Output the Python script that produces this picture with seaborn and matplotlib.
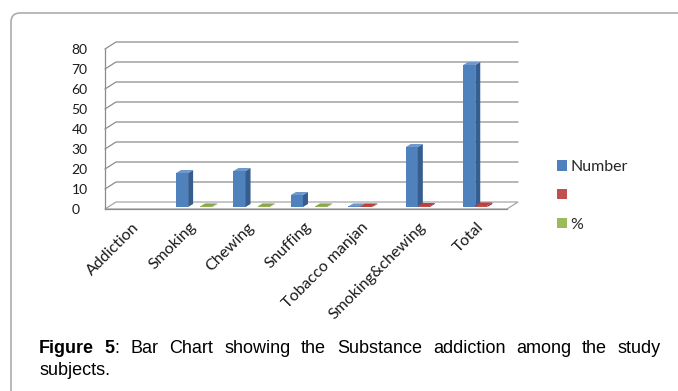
import numpy as np
import pandas as pd
import matplotlib
matplotlib.use("Agg")
import matplotlib.pyplot as plt
import seaborn as sns
from matplotlib import transforms
from matplotlib.patches import Polygon, Patch, FancyBboxPatch
from matplotlib.lines import Line2D

# ---------------- data ----------------
categories = ["Addiction", "Smoking", "Chewing", "Snuffing", "Tobacco manjan",
              "Smoking&chewing", "Total"]
series = ["Number", "", "%"]
number_vals = [np.nan, 17, 18, 6, 0.3, 30, 71]
blank_vals = [np.nan, np.nan, np.nan, np.nan, 0.3, 0.5, 0.8]
pct_vals = [np.nan, 0.3, 0.3, 0.3, np.nan, np.nan, np.nan]
yticks = [0, 10, 20, 30, 40, 50, 60, 70, 80]
caption_bold = "Figure 5"
caption_rest = ": Bar Chart showing the Substance addiction among the study"
caption_line2 = "subjects."

front_colors = {"Number": "#4F81BD", "": "#C0504D", "%": "#9BBB59"}
side_colors = {"Number": "#355E8F", "": "#8E3532", "%": "#6F8A3C"}
top_colors = {"Number": "#6F98CC", "": "#B9403D", "%": "#8AA84B"}

rows = []
for s, vals in zip(series, [number_vals, blank_vals, pct_vals]):
    for c, v in zip(categories, vals):
        rows.append({"cat": c, "series": s, "value": v})
df = pd.DataFrame(rows).dropna()

# ---------------- figure ----------------
W, H = 678, 391
DPI = 100
sns.set_theme(style="white")
plt.rcParams["font.family"] = ["Lato", "DejaVu Sans"]
fig = plt.figure(figsize=(W / DPI, H / DPI), dpi=DPI)
fig.patch.set_facecolor("white")

# axes placed in pixels: x 105..507, y(0)=209, y(80)=49
ax_l, ax_r, ax_b, ax_t = 105, 507, 209, 49
ax = fig.add_axes([ax_l / W, (H - ax_b) / H, (ax_r - ax_l) / W, (ax_b - ax_t) / H])
ax.set_facecolor("none")

sns.barplot(data=df, x="cat", y="value", hue="series", order=categories,
            hue_order=series, palette=front_colors, width=0.63, dodge=True,
            saturation=1, legend=False, ax=ax, zorder=3, linewidth=0)

ax.set_xlim(-0.5, len(categories) - 0.5)
ax.set_ylim(yticks[0], yticks[-1])
ax.set_xlabel("")
ax.set_ylabel("")

grid_c = "#8C8C8C"
for sp in ["top", "right"]:
    ax.spines[sp].set_visible(False)
for sp in ["left", "bottom"]:
    ax.spines[sp].set_color(grid_c)
    ax.spines[sp].set_linewidth(0.9)

ax.set_yticks(yticks)
ax.set_yticklabels([str(v) for v in yticks])
ax.tick_params(axis="y", length=3, width=0.9, color=grid_c, pad=21,
               labelsize=10, labelcolor="#1a1a1a")
for lab in ax.get_yticklabels():
    lab.set_ha("left")
ax.set_xticks(np.arange(-0.5, len(categories), 1.0))
ax.set_xticklabels([""] * (len(categories) + 1))
ax.tick_params(axis="x", length=4, width=0.9, color=grid_c)

ident = transforms.IdentityTransform()
dx, dy = 11, 7  # depth of the pseudo-3D wall (pixels)

def disp(x, y):
    return ax.transData.transform((x, y))

# back wall gridlines with diagonal from the front axis
xl, _ = disp(-0.5, 0)
xr, _ = disp(len(categories) - 0.5, 0)
for v in yticks[1:]:
    _, yy = disp(-0.5, v)
    ax.add_line(Line2D([xl, xl + dx, xr + dx], [yy, yy + dy, yy + dy],
                       transform=ident, color=grid_c, lw=0.9, zorder=1,
                       clip_on=False))
# floor
_, y0 = disp(-0.5, 0)
floor = Polygon([(xl, y0), (xr, y0), (xr + dx, y0 + dy), (xl + dx, y0 + dy)],
                closed=True, transform=ident, facecolor="white",
                edgecolor="#A6A6A6", lw=0.9, zorder=1.5, clip_on=False)
ax.add_patch(floor)

# 3D faces for bars
shift = transforms.ScaledTranslation(3 / DPI, 2 / DPI, fig.dpi_scale_trans)
bar_tr = ax.transData + shift
bdx, bdy = 5, 3
for s, cont in zip(series, ax.containers):
    for p in cont.patches:
        h = p.get_height()
        if not np.isfinite(h):
            continue
        p.set_transform(bar_tr)
        p.set_clip_on(False)
        x0p, y0p = bar_tr.transform((p.get_x(), 0))
        x1p, y1p = bar_tr.transform((p.get_x() + p.get_width(), h))
        side = Polygon([(x1p, y0p), (x1p + bdx, y0p + bdy), (x1p + bdx, y1p + bdy), (x1p, y1p)],
                       closed=True, transform=ident, facecolor=side_colors[s],
                       edgecolor="none", zorder=3, clip_on=False)
        top = Polygon([(x0p, y1p), (x1p, y1p), (x1p + bdx, y1p + bdy), (x0p + bdx, y1p + bdy)],
                      closed=True, transform=ident, facecolor=top_colors[s],
                      edgecolor="none", zorder=3, clip_on=False)
        ax.add_patch(side)
        ax.add_patch(top)

# category labels (rotated 45°)
lab_shift = transforms.ScaledTranslation(-2 / DPI, -11 / DPI, fig.dpi_scale_trans)
for i, c in enumerate(categories):
    ax.text(i, 0, c, transform=ax.transData + lab_shift, rotation=45,
            rotation_mode="anchor", ha="right", va="top", fontsize=11.5,
            color="#1a1a1a", clip_on=False)

# legend
handles = [Patch(facecolor=front_colors[s], edgecolor="none") for s in series]
fig.legend(handles, series, loc="upper left",
           bbox_to_anchor=(557 / W, (H - 160) / H), frameon=False,
           fontsize=11.5, handlelength=0.62, handleheight=0.62, handletextpad=0.2,
           labelspacing=0.93, borderpad=0, borderaxespad=0)

# outer chart border
border = FancyBboxPatch((11, -40), 720, (H - 13) + 40,
                        boxstyle="round,pad=0,rounding_size=9",
                        transform=ident, facecolor="none", edgecolor="#A6A6A6",
                        lw=1.1, zorder=0)
fig.add_artist(border)

# caption, justified first line
renderer = fig.canvas.get_renderer()
cap_font = dict(family=["Liberation Sans", "DejaVu Sans"], fontsize=13, color="black")
segments = [[(caption_bold.split(" ")[0], "bold")],
            [(caption_bold.split(" ")[1], "bold"), (caption_rest.split(" ")[0], "normal")]]
for w in caption_rest.split(" ")[1:]:
    segments.append([(w, "normal")])

def width_of(text, weight):
    t = fig.text(0, 0, text, fontweight=weight, **cap_font)
    wdt = t.get_window_extent(renderer).width
    t.remove()
    return wdt

word_widths = [sum(width_of(t, wt) for t, wt in seg) for seg in segments]
x_start, x_end = 39, 661
gap = (x_end - x_start - sum(word_widths)) / (len(segments) - 1)
base1 = H - 353
xc = x_start
for seg, ww in zip(segments, word_widths):
    xs = xc
    for t, wt in seg:
        fig.text(xs / W, base1 / H, t, fontweight=wt, va="baseline", ha="left", **cap_font)
        xs += width_of(t, wt)
    xc += ww + gap
fig.text(x_start / W, (H - 375) / H, caption_line2, va="baseline", ha="left", **cap_font)

fig.savefig("out.png", dpi=DPI, facecolor="white")
